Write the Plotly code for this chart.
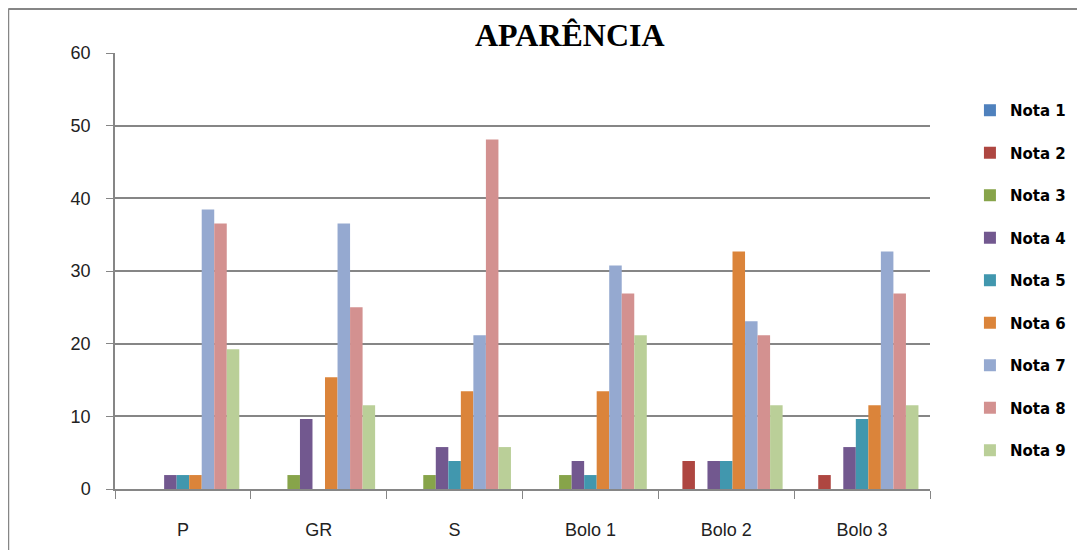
import plotly.graph_objects as go

# categories and scores (% of tasters per score)
categorias = ["P", "GR", "S", "Bolo 1", "Bolo 2", "Bolo 3"]
notas = ["Nota 1", "Nota 2", "Nota 3", "Nota 4", "Nota 5", "Nota 6", "Nota 7", "Nota 8", "Nota 9"]

nota_1 = [0, 0, 0, 0, 0, 0]
nota_2 = [0, 0, 0, 0, 3.85, 1.92]
nota_3 = [0, 1.92, 1.92, 1.92, 0, 0]
nota_4 = [1.92, 9.62, 5.77, 3.85, 3.85, 5.77]
nota_5 = [1.92, 0, 3.85, 1.92, 3.85, 9.62]
nota_6 = [1.92, 15.38, 13.46, 13.46, 32.69, 11.54]
nota_7 = [38.46, 36.54, 21.15, 30.77, 23.08, 32.69]
nota_8 = [36.54, 25.0, 48.08, 26.92, 21.15, 26.92]
nota_9 = [19.23, 11.54, 5.77, 21.15, 11.54, 11.54]

series = [nota_1, nota_2, nota_3, nota_4, nota_5, nota_6, nota_7, nota_8, nota_9]
cores = ["#4F81BD", "#AE4641", "#87A44A", "#72588F", "#4197AE",
         "#DB843A", "#95A9D0", "#D39190", "#BACF98"]

fig = go.Figure()
for nome, valores, cor in zip(notas, series, cores):
    fig.add_trace(go.Bar(x=categorias, y=valores, name=nome,
                         marker={"color": cor, "line": {"width": 0}},
                         legendgroup=nome))

grid = "#868686"

# page body adds an 8px margin, so the figure is a bit smaller than the window
fig.update_layout(
    width=1077, height=542,
    margin={"l": 107, "r": 155, "t": 45, "b": 61, "autoexpand": False},
    paper_bgcolor="white", plot_bgcolor="white",
    barmode="group", bargap=0.17, bargroupgap=0,
    font={"family": "Liberation Sans", "size": 18, "color": "#222"},
    showlegend=True,
    legend={"x": 1.049, "xanchor": "left", "y": 0.906, "yanchor": "top",
            "font": {"family": "DejaVu Sans", "size": 15, "color": "black", "weight": "bold"},
            "tracegroupgap": 20, "itemwidth": 30, "bgcolor": "rgba(0,0,0,0)"},
    annotations=[{"text": "<b>APARÊNCIA</b>", "xref": "paper", "yref": "paper",
                  "x": 0.558, "y": 1.0, "xanchor": "center", "yanchor": "bottom",
                  "yshift": -2, "showarrow": False,
                  "font": {"family": "Liberation Serif", "size": 32, "color": "black"}}],
    shapes=[
        {"type": "line", "xref": "paper", "yref": "paper",
         "x0": -0.131, "x1": 1.2, "y0": 1.101, "y1": 1.101,
         "line": {"color": grid, "width": 2}},
        {"type": "line", "xref": "paper", "yref": "paper",
         "x0": -0.131, "x1": -0.131, "y0": 1.101, "y1": -0.14,
         "line": {"color": grid, "width": 2}},
    ],
)

fig.update_yaxes(range=[0, 60], dtick=10, showgrid=True, gridcolor=grid, gridwidth=1.5,
                 showline=True, linecolor=grid, linewidth=1.5,
                 ticks="outside", ticklen=7, tickcolor=grid, ticklabelstandoff=12,
                 zeroline=False)
fig.update_xaxes(showline=True, linecolor=grid, linewidth=1.5,
                 ticks="outside", tickson="boundaries", ticklen=8, tickcolor=grid,
                 ticklabelstandoff=24, showgrid=False)

fig.write_html("out.html")
